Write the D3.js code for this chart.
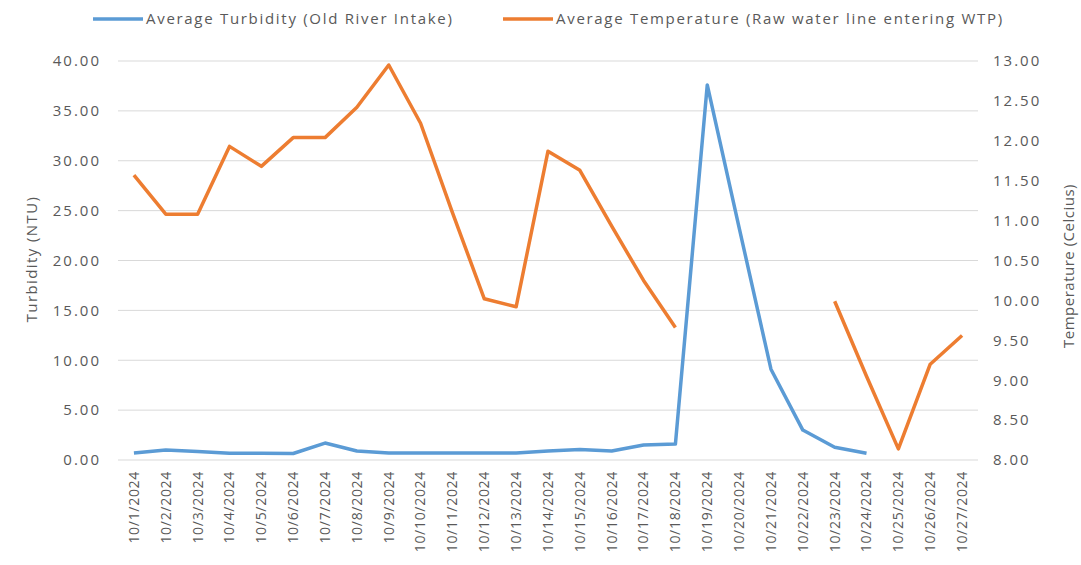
<!DOCTYPE html>
<html><head><meta charset="utf-8">
<script src="https://cdn.jsdelivr.net/npm/d3@7/dist/d3.min.js"></script>
<style>body{margin:0;background:#fff}svg{display:block}text{font-family:"Open Sans","Liberation Sans",sans-serif;fill:#595959}</style>
</head><body><svg id="c" width="1081" height="565"></svg>
<script>
const categories = ["10/1/2024","10/2/2024","10/3/2024","10/4/2024","10/5/2024","10/6/2024","10/7/2024","10/8/2024","10/9/2024","10/10/2024","10/11/2024","10/12/2024","10/13/2024","10/14/2024","10/15/2024","10/16/2024","10/17/2024","10/18/2024","10/19/2024","10/20/2024","10/21/2024","10/22/2024","10/23/2024","10/24/2024","10/25/2024","10/26/2024","10/27/2024"];
const turbidity = [0.7,1.0,0.86,0.67,0.67,0.65,1.7,0.9,0.7,0.7,0.7,0.7,0.7,0.9,1.05,0.9,1.5,1.6,37.6,23.3,9.1,3.0,1.27,0.67,null,null,null];
const temperature = [11.57,11.08,11.08,11.93,11.68,12.04,12.04,12.42,12.95,12.22,11.1,10.02,9.92,11.87,11.63,10.93,10.25,9.66,null,null,null,null,9.99,9.05,8.14,9.2,9.56];
const leftTicks = [0,5,10,15,20,25,30,35,40];
const rightTicks = [8,8.5,9,9.5,10,10.5,11,11.5,12,12.5,13];
const seriesNames = ["Average Turbidity (Old River Intake)","Average Temperature (Raw water line entering WTP)"];
const axisTitles = ["Turbidity (NTU)","Temperature (Celcius)"];
const colors = ["#5B9BD5","#ED7D31"];

const svg = d3.select("#c");
const L = 118, R = 978, T = 61, B = 460;
const x = d3.scaleBand().domain(categories).range([L, R]);
const yL = d3.scaleLinear().domain([0,40]).range([B, T]);
const yR = d3.scaleLinear().domain([8,13]).range([B, T]);

// gridlines
svg.append("g").selectAll("line").data(leftTicks).join("line")
  .attr("x1", L).attr("x2", R).attr("y1", d=>yL(d)).attr("y2", d=>yL(d))
  .attr("stroke", "#d9d9d9").attr("stroke-width", 1);

// left axis
const gl = svg.append("g").attr("transform", `translate(${L},0)`)
  .call(d3.axisLeft(yL).tickValues(leftTicks).tickFormat(d3.format(".2f")).tickSize(0).tickPadding(17));
gl.select(".domain").remove();
gl.selectAll("text").style("font-size","15px").style("letter-spacing","2px").attr("fill","#595959");

// right axis
const gr = svg.append("g").attr("transform", `translate(${R},0)`)
  .call(d3.axisRight(yR).tickValues(rightTicks).tickFormat(d3.format(".2f")).tickSize(0).tickPadding(15));
gr.select(".domain").remove();
gr.selectAll("text").style("font-size","15px").style("letter-spacing","2px").attr("fill","#595959");

// x axis
const gx = svg.append("g").attr("transform", `translate(0,${B})`)
  .call(d3.axisBottom(x).tickSize(0).tickPadding(8));
gx.select(".domain").remove();
gx.selectAll("text").style("font-size","14px").style("letter-spacing","0.7px").attr("fill","#595959")
  .attr("transform","rotate(-90)").attr("text-anchor","end").attr("y",0).attr("x",-11).attr("dy","0.35em");

// titles
svg.append("text").attr("transform","translate(32,259) rotate(-90)").attr("text-anchor","middle").attr("dy","0.35em")
  .style("font-size","15px").style("letter-spacing","1.4px").text(axisTitles[0]);
svg.append("text").attr("transform","translate(1069,266) rotate(-90)").attr("text-anchor","middle").attr("dy","0.35em")
  .style("font-size","15px").style("letter-spacing","0.5px").text(axisTitles[1]);

const cx = d => x(d) + x.bandwidth()/2;
const lineL = d3.line().defined(d=>d[1]!=null).x(d=>cx(d[0])).y(d=>yL(d[1]));
const lineR = d3.line().defined(d=>d[1]!=null).x(d=>cx(d[0])).y(d=>yR(d[1]));
svg.append("path").datum(categories.map((c,i)=>[c,turbidity[i]])).attr("d", lineL)
  .attr("fill","none").attr("stroke",colors[0]).attr("stroke-width",3.5).attr("stroke-linejoin","round");
svg.append("path").datum(categories.map((c,i)=>[c,temperature[i]])).attr("d", lineR)
  .attr("fill","none").attr("stroke",colors[1]).attr("stroke-width",3.5).attr("stroke-linejoin","round");

// legend
const legX = [93, 503];
seriesNames.forEach((n,i)=>{
  const g = svg.append("g").attr("transform",`translate(${legX[i]},19)`);
  g.append("line").attr("x1",0).attr("x2",50).attr("stroke",colors[i]).attr("stroke-width",3.5);
  g.append("text").attr("x",53).attr("y",0).attr("dy","0.35em").style("font-size","15px").style("letter-spacing","1.7px").text(n);
});
</script></body></html>
